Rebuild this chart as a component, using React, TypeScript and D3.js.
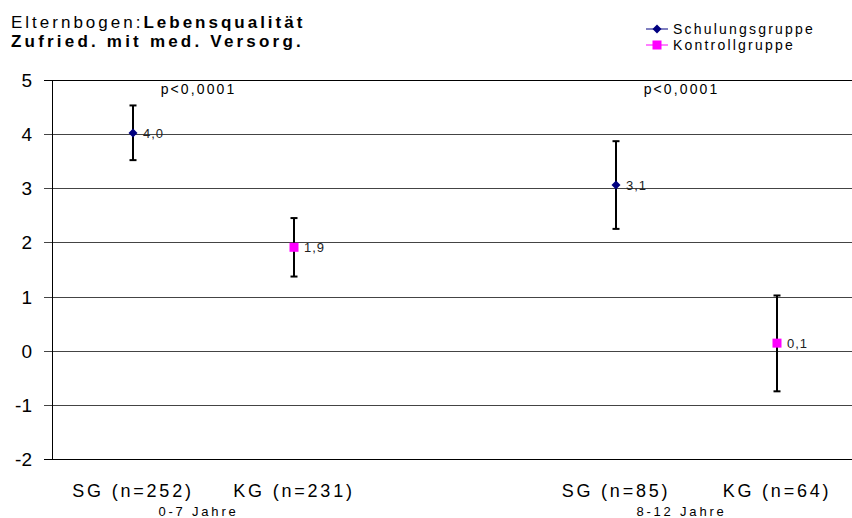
import React from 'react';
import * as d3 from 'd3';

const WIDTH = 852;
const HEIGHT = 518;
const FONT = '"Liberation Sans", Arial, sans-serif';

// categories along the x axis (third slot is an empty spacer)
const categories = ['SG (n=252)', 'KG (n=231)', '', 'SG (n=85)', 'KG (n=64)'];
const groups = ['0-7 Jahre', '8-12 Jahre'];
const groupSlots = [[0, 1], [3, 4]];
const pValues = ['p<0,0001', 'p<0,0001'];

const seriesNames = ['Schulungsgruppe', 'Kontrollgruppe'];
const seriesColors = ['#000080', '#FF00FF'];

// one entry per category slot
const pointSeries = [0, 1, null, 0, 1];
const means = [4.02, 1.91, null, 3.06, 0.14];
const lower = [3.52, 1.37, null, 2.25, -0.75];
const upper = [4.53, 2.45, null, 3.87, 1.02];

const yTicks = [5, 4, 3, 2, 1, 0, -1, -2];

const PLOT = { left: 52, right: 857, top: 80, bottom: 459 };

const fmt = (v: number) => d3.format('.1f')(v).replace('.', ',');

export default function App() {
  React.useEffect(() => {
    document.body.style.margin = '0';
  }, []);

  const x = d3.scaleBand<number>()
    .domain(categories.map((_, i) => i))
    .range([PLOT.left, PLOT.right])
    .padding(0);
  const y = d3.scaleLinear().domain([-2, 5]).range([PLOT.bottom, PLOT.top]);
  const cx = (i: number) => Math.round((x(i) as number) + x.bandwidth() / 2);

  const marker = (s: number, px: number, py: number, key?: string) =>
    s === 0
      ? <path key={key} d={`M${px},${py - 4.5}L${px + 4.5},${py}L${px},${py + 4.5}L${px - 4.5},${py}Z`} fill={seriesColors[0]} />
      : <rect key={key} x={px - 4.5} y={py - 4.5} width={9} height={9} fill={seriesColors[1]} />;

  return (
    <svg width={WIDTH} height={HEIGHT} style={{ position: 'absolute', left: 0, top: 0, background: '#fff' }} fontFamily={FONT}>
      {/* title */}
      <text x={11} y={28} fontSize={17} letterSpacing={3} fill='#000'>
        <tspan>Elternbogen:</tspan>
        <tspan fontWeight='bold'>Lebensqualität</tspan>
      </text>
      <text x={11} y={47} fontSize={17} fontWeight='bold' letterSpacing={3.2} fill='#000'>Zufried. mit med. Versorg.</text>

      {/* legend */}
      {seriesNames.map((name, s) => {
        const ly = 29 + s * 16;
        return <g key={name}>
          <line x1={646} x2={668} y1={ly} y2={ly} stroke={seriesColors[s]} strokeWidth={1} />
          {marker(s, 657, ly)}
          <text x={673} y={ly} dy='0.36em' fontSize={14} letterSpacing={2.2} fill='#000'>{name}</text>
        </g>;
      })}

      {/* gridlines and y ticks */}
      {yTicks.map(t => {
        const ty = Math.round(y(t)) + 0.5;
        return <g key={t}>
          <line x1={PLOT.left - 8} x2={WIDTH} y1={ty} y2={ty} stroke={t === 5 || t === -2 ? '#000' : '#444'} strokeWidth={1} />
          <text x={32} y={ty} dy='0.36em' textAnchor='end' fontSize={19} fill='#000'>{t}</text>
        </g>;
      })}
      <line x1={PLOT.left + 0.5} x2={PLOT.left + 0.5} y1={PLOT.top} y2={PLOT.bottom + 1} stroke='#000' />

      {/* p-values and group labels */}
      {groups.map((g, gi) => {
        const [a, b] = groupSlots[gi];
        const gx = (cx(a) + cx(b)) / 2 - 15;
        return <g key={g}>
          <text x={gx} y={94} textAnchor='middle' fontSize={14} letterSpacing={2.1} fill='#000'>{pValues[gi]}</text>
          <text x={gx} y={516} textAnchor='middle' fontSize={13} letterSpacing={2.8} fill='#000'>{g}</text>
        </g>;
      })}

      {/* category labels */}
      {categories.map((c, i) => c ? (
        <text key={i} x={cx(i)} y={497} textAnchor='middle' fontSize={18} letterSpacing={2.8} fill='#000'>{c}</text>
      ) : null)}

      {/* error bars, markers and value labels */}
      {means.map((m, i) => {
        if (m == null) return null;
        const px = cx(i);
        const py = y(m);
        const lo = y(lower[i] as number);
        const hi = y(upper[i] as number);
        return <g key={i}>
          <line x1={px} x2={px} y1={hi} y2={lo} stroke='#000' strokeWidth={2} />
          <line x1={px - 3.5} x2={px + 3.5} y1={hi} y2={hi} stroke='#000' strokeWidth={2} />
          <line x1={px - 3.5} x2={px + 3.5} y1={lo} y2={lo} stroke='#000' strokeWidth={2} />
          {marker(pointSeries[i] as number, px, py)}
          <text x={px + 10} y={py} dy='0.36em' fontSize={13} letterSpacing={1} fill='#222'>{fmt(m)}</text>
        </g>;
      })}
    </svg>
  );
}
